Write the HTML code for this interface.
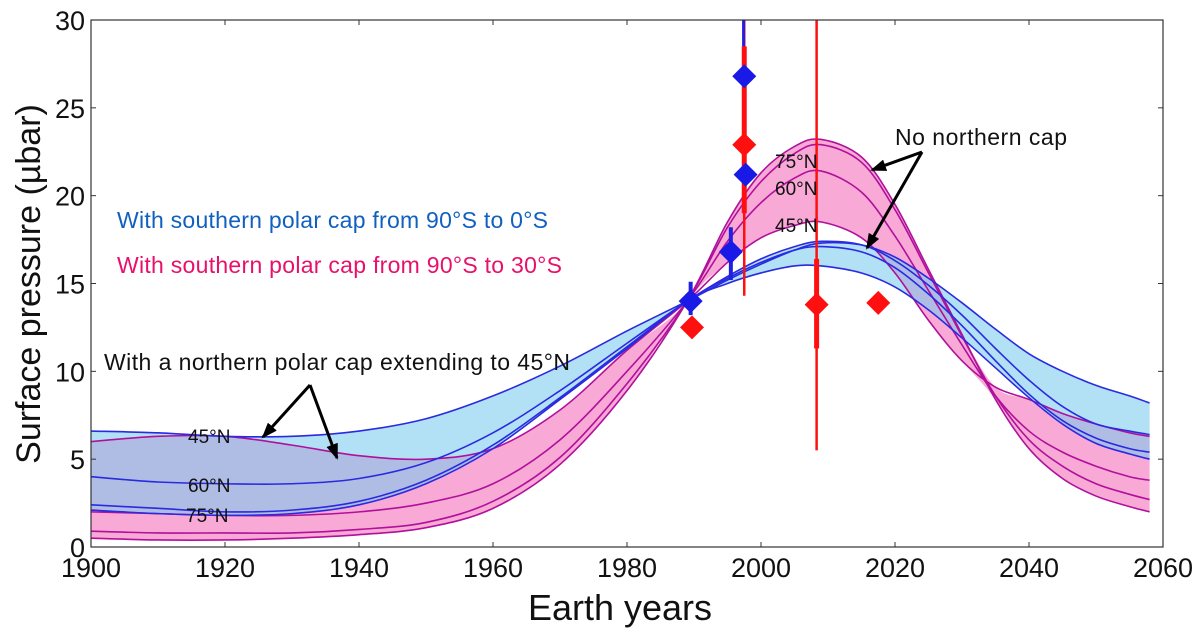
<!DOCTYPE html>
<html><head><meta charset="utf-8"><style>
body{margin:0;background:#fff}svg{display:block}
text{font-family:"Liberation Sans","DejaVu Sans",sans-serif}
</style></head><body>
<svg id="chart" width="1200" height="639" viewBox="0 0 1200 639" xmlns="http://www.w3.org/2000/svg">
<g id="bands"></g><g id="lines"></g><g id="marks"></g><g id="axes"></g>
</svg>
<script>
const years=[1900,1910,1920,1930,1940,1950,1960,1970,1980,1989,1995,2000,2005,2009,2015,2020,2025,2030,2035,2040,2045,2050,2055,2058];
const pink45=[6.0,6.3,6.3,5.8,5.2,5.0,5.6,7.8,11.2,14,16.2,17.6,18.3,18.5,17.6,15.6,12.9,10.6,9.1,8.4,7.6,7.0,6.5,6.3];
const pink60=[2.0,1.9,1.8,1.8,2.0,2.5,3.6,6.1,10.0,14,17.4,19.6,21.0,21.4,20.2,17.7,14.6,11.5,8.6,6.6,5.4,4.6,4.0,3.8];
const pink75=[0.9,0.8,0.8,0.8,1.0,1.4,2.6,5.1,9.3,14,18.2,20.8,22.4,22.9,21.9,19.2,15.6,12.0,8.6,6.1,4.6,3.6,3.0,2.7];
const pinkNo=[0.5,0.4,0.4,0.5,0.7,1.1,2.2,4.7,8.9,14,18.5,21.3,22.8,23.2,22.2,19.5,15.8,12.1,8.4,5.6,3.9,2.9,2.3,2.0];
const blue45=[6.6,6.5,6.3,6.3,6.6,7.3,8.6,10.3,12.3,14,15.2,16.1,16.9,17.3,17.2,16.5,15.3,13.9,12.4,11.0,10.0,9.2,8.6,8.2];
const blue60=[4.0,3.7,3.6,3.6,3.9,4.8,6.5,8.9,11.6,14,15.4,16.4,17.1,17.4,17.2,16.3,14.9,13.2,11.3,9.5,8.0,7.0,6.6,6.4];
const blue75=[2.4,2.2,2.0,2.1,2.6,3.8,5.8,8.5,11.4,14,15.3,16.2,16.9,17.1,16.8,15.9,14.4,12.6,10.6,8.7,7.2,6.2,5.6,5.4];
const blueNo=[2.1,1.9,1.8,1.9,2.4,3.6,5.6,8.4,11.3,14,15.0,15.6,16.0,16.0,15.6,14.8,13.5,11.9,10.2,8.5,7.0,5.9,5.3,5.0];
const blueObsX=[1989.5,1995.5,1997.5,1997.7];
const blueObsY=[14,16.8,26.8,21.2];
const redObsX=[1989.7,1997.5,2008.3,2017.5];
const redObsY=[12.5,22.9,13.8,13.9];
const xTicks=[1900,1920,1940,1960,1980,2000,2020,2040,2060];
const yTicks=[0,5,10,15,20,25,30];
const X0=91,X1=1163,Y0=547,Y1=20;
const sx=v=>X0+(v-1900)/160*(X1-X0);
const sy=v=>Y0-v/30*(Y0-Y1);
const NS="http://www.w3.org/2000/svg";
function mk(tag,parent,attrs){const e=document.createElementNS(NS,tag);for(const k in attrs)e.setAttribute(k,attrs[k]);document.getElementById(parent).appendChild(e);return e;}
function smooth(pts){let d="M"+pts[0][0]+","+pts[0][1];for(let i=0;i<pts.length-1;i++){const p0=pts[Math.max(0,i-1)],p1=pts[i],p2=pts[i+1],p3=pts[Math.min(pts.length-1,i+2)];
d+=" C"+(p1[0]+(p2[0]-p0[0])/6)+","+(p1[1]+(p2[1]-p0[1])/6)+" "+(p2[0]-(p3[0]-p1[0])/6)+","+(p2[1]-(p3[1]-p1[1])/6)+" "+p2[0]+","+p2[1];}return d;}
function band(series,fill,op,name){const hi=years.map((y,i)=>[sx(y),sy(Math.max(...series.map(s=>s[i])))]);
const lo=years.map((y,i)=>[sx(y),sy(Math.min(...series.map(s=>s[i])))]).reverse();
const d=smooth(hi)+" L"+smooth(lo).slice(1)+" Z";
const p=mk("path","bands",{d:d,fill:fill,"fill-opacity":op});

}
band([pink45,pink60,pink75,pinkNo],"#f8a9d5",1,"pink-band");
band([blue45,blue60,blue75,blueNo],"#7ecbef",0.6,"blue-band");
[[pink45,"pink-45n"],[pink60,"pink-60n"],[pink75,"pink-75n"],[pinkNo,"pink-no-cap"]].forEach(([s,n])=>{
const p=mk("path","lines",{d:smooth(years.map((y,i)=>[sx(y),sy(s[i])])),fill:"none",stroke:"#b0109c","stroke-width":1.6});

});
[[blue45,"blue-45n"],[blue60,"blue-60n"],[blue75,"blue-75n"],[blueNo,"blue-no-cap"]].forEach(([s,n])=>{
const p=mk("path","lines",{d:smooth(years.map((y,i)=>[sx(y),sy(s[i])])),fill:"none",stroke:"#2a2ae0","stroke-width":1.6});

});
function bar(x,a,b,w,c,n){const l=mk("line","marks",{x1:sx(x),x2:sx(x),y1:sy(a),y2:sy(b),stroke:c,"stroke-width":w});

}
bar(1997.5,14.3,30,2.5,"#ff1010","error-bar-red-1997");
bar(1997.5,19,28.5,5,"#ff1010","error-bar-red-1997-thick");
bar(1997.4,28.5,30,3,"#2020e0","error-bar-blue-1997");
bar(2008.3,5.5,30,2.5,"#ff1010","error-bar-red-2008");
bar(2008.3,11.3,16.4,5,"#ff1010","error-bar-red-2008-thick");
bar(1989.5,13.2,15.1,4,"#2020e0","error-bar-blue-1989");
bar(1995.5,15.2,18.2,4,"#2020e0","error-bar-blue-1995");
function diamond(x,y,c,n){const cx=sx(x),cy=sy(y),r=12;
const p=mk("polygon","marks",{points:`${cx},${cy-r} ${cx+r},${cy} ${cx},${cy+r} ${cx-r},${cy}`,fill:c});

}
redObsX.forEach((x,i)=>diamond(x,redObsY[i],"#ff1010","red-observation"));
blueObsX.forEach((x,i)=>diamond(x,blueObsY[i],"#1a1ae6","blue-observation"));
const fr=mk("rect","axes",{x:X0,y:Y1,width:X1-X0,height:Y0-Y1,fill:"none",stroke:"#333","stroke-width":1.2});


xTicks.forEach(t=>{const x=sx(t);mk("line","axes",{x1:x,x2:x,y1:Y0,y2:Y0-5,stroke:"#333"});mk("line","axes",{x1:x,x2:x,y1:Y1,y2:Y1+5,stroke:"#333"});
const tx=mk("text","axes",{x:x,y:Y0+30,"text-anchor":"middle","font-size":27,fill:"#111"});tx.textContent=t;

});
yTicks.forEach(t=>{const y=sy(t);mk("line","axes",{x1:X0,x2:X0+5,y1:y,y2:y,stroke:"#333"});mk("line","axes",{x1:X1,x2:X1-5,y1:y,y2:y,stroke:"#333"});
const tx=mk("text","axes",{x:X0-6,y:y+10,"text-anchor":"end","font-size":27,fill:"#111"});tx.textContent=t;

});
</script>
<svg style="position:absolute;left:0;top:0" width="1200" height="639" xmlns="http://www.w3.org/2000/svg">
<defs><marker id="ah" markerUnits="userSpaceOnUse" markerWidth="16" markerHeight="12" refX="14" refY="6" orient="auto"><path d="M0,0 L16,6 L0,12 z" fill="#000"/></marker></defs>
<text x="620" y="620" text-anchor="middle" font-size="36" fill="#111">Earth years</text>
<text transform="translate(40,284) rotate(-90)" text-anchor="middle" font-size="34" fill="#111">Surface pressure (µbar)</text>
<text x="117" y="228" font-size="23" textLength="431" fill="#1060c0">With southern polar cap from 90°S to 0°S</text>
<text x="117" y="273" font-size="23" textLength="445" fill="#e8106a">With southern polar cap from 90°S to 30°S</text>
<text x="104" y="370" font-size="23" textLength="466" fill="#111">With a northern polar cap extending to 45°N</text>
<text x="895" y="145" font-size="23" textLength="172" fill="#111">No northern cap</text>
<g stroke="#000" stroke-width="3" fill="none">
<line x1="310" y1="385" x2="263" y2="437" marker-end="url(#ah)"/><line x1="310" y1="385" x2="337" y2="458" marker-end="url(#ah)"/>
<line x1="922" y1="152" x2="872" y2="170" marker-end="url(#ah)"/><line x1="922" y1="152" x2="867" y2="248" marker-end="url(#ah)"/>
</g>
<g font-size="19" fill="#111">
<text x="188" y="443">45°N</text><text x="188" y="492">60°N</text><text x="186" y="522">75°N</text>
<text x="775" y="168">75°N</text><text x="775" y="195">60°N</text><text x="775" y="232">45°N</text>
</g>
</svg>
</body></html>
